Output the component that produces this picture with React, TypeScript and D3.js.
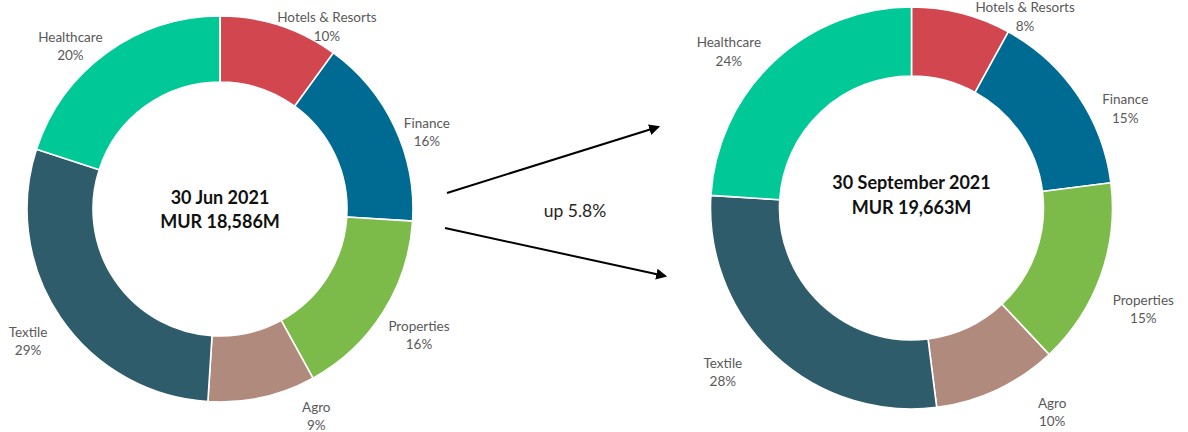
import React from "react";
import * as d3 from "d3";

// ---- data ----
const sectors = ["Hotels & Resorts", "Finance", "Properties", "Agro", "Textile", "Healthcare"];
const junShares = [10, 16, 16, 9, 29, 20];
const sepShares = [8, 15, 15, 10, 28, 24];
const junTitle = ["30 Jun 2021", "MUR 18,586M"];
const sepTitle = ["30 September 2021", "MUR 19,663M"];
const changeLabel = "up 5.8%";

// ---- style / layout ----
const colors = ["#D2474F", "#006B92", "#7CBA4A", "#B08B7D", "#2E5C6A", "#00C897"];
const W = 1188;
const H = 432;
const FONT = "Lato, 'Open Sans', 'Noto Sans', sans-serif";

type DonutLayout = {
  cx: number;
  cy: number;
  R: number;
  r: number;
  titleY: number[];
  nudge: [number, number][];
};

const junLayout: DonutLayout = {
  cx: 220,
  cy: 209,
  R: 193,
  r: 127,
  titleY: [197, 221],
  nudge: [[38, 29], [5, 17.5], [10.6, 6], [47.6, -11.7], [-7.4, 6.2], [-18.5, 16.6]],
};
const sepLayout: DonutLayout = {
  cx: 911.5,
  cy: 208,
  R: 201,
  r: 132,
  titleY: [182, 207],
  nudge: [[55.8, 32.8], [21.6, 30.4], [13.2, 21.4], [41.7, -7], [-29.6, -6.1], [-23.6, 12.1]],
};

function Donut({ shares, title, L }: { shares: number[]; title: string[]; L: DonutLayout }) {
  const pie = d3.pie<number>().sort(null).value((d) => d);
  const arcs = pie(shares);
  const arc = d3.arc<d3.PieArcDatum<number>>().innerRadius(L.r).outerRadius(L.R);
  const labelR = L.R * 1.156;
  const labelArc = d3.arc<d3.PieArcDatum<number>>().innerRadius(labelR).outerRadius(labelR);
  return (
    <g transform={`translate(${L.cx},${L.cy})`}>
      {arcs.map((a, i) => (
        <path key={i} d={arc(a) || ""} fill={colors[i]} stroke="#ffffff" strokeWidth={1.6} />
      ))}
      {arcs.map((a, i) => {
        const [x, y] = labelArc.centroid(a);
        const lx = x + L.nudge[i][0];
        const ly = y + L.nudge[i][1];
        return (
          <text key={"l" + i} x={lx} y={ly} textAnchor="middle" fontFamily={FONT} fontSize={13.5} fill="#595959">
            <tspan x={lx} dy="-0.25em">{sectors[i]}</tspan>
            <tspan x={lx} dy="1.35em">{`${shares[i]}%`}</tspan>
          </text>
        );
      })}
      {title.map((t, i) => (
        <text
          key={"t" + i}
          x={0}
          y={L.titleY[i] - L.cy}
          textAnchor="middle"
          dominantBaseline="central"
          fontFamily={FONT}
          fontWeight={700}
          fontSize={18}
          fill="#111111"
        >
          {t}
        </text>
      ))}
    </g>
  );
}

export default function App() {
  const arrows: [number, number, number, number][] = [
    [447, 193, 658, 127],
    [445, 228, 665, 276],
  ];
  return (
    <svg
      width={W}
      height={H}
      viewBox={`0 0 ${W} ${H}`}
      style={{ position: "absolute", left: 0, top: 0, background: "#ffffff" }}
    >
      <defs>
        <marker id="ah" viewBox="0 0 10 10" refX={8} refY={5} markerWidth={5.5} markerHeight={5.5} orient="auto">
          <path d="M0,0 L10,5 L0,10 z" fill="#000000" />
        </marker>
      </defs>
      <rect width={W} height={H} fill="#ffffff" />
      <Donut shares={junShares} title={junTitle} L={junLayout} />
      <Donut shares={sepShares} title={sepTitle} L={sepLayout} />
      {arrows.map((a, i) => (
        <line key={i} x1={a[0]} y1={a[1]} x2={a[2]} y2={a[3]} stroke="#000000" strokeWidth={2} markerEnd="url(#ah)" />
      ))}
      <text x={575} y={210} textAnchor="middle" dominantBaseline="central" fontFamily={FONT} fontSize={17.5} fill="#262626">
        {changeLabel}
      </text>
    </svg>
  );
}
